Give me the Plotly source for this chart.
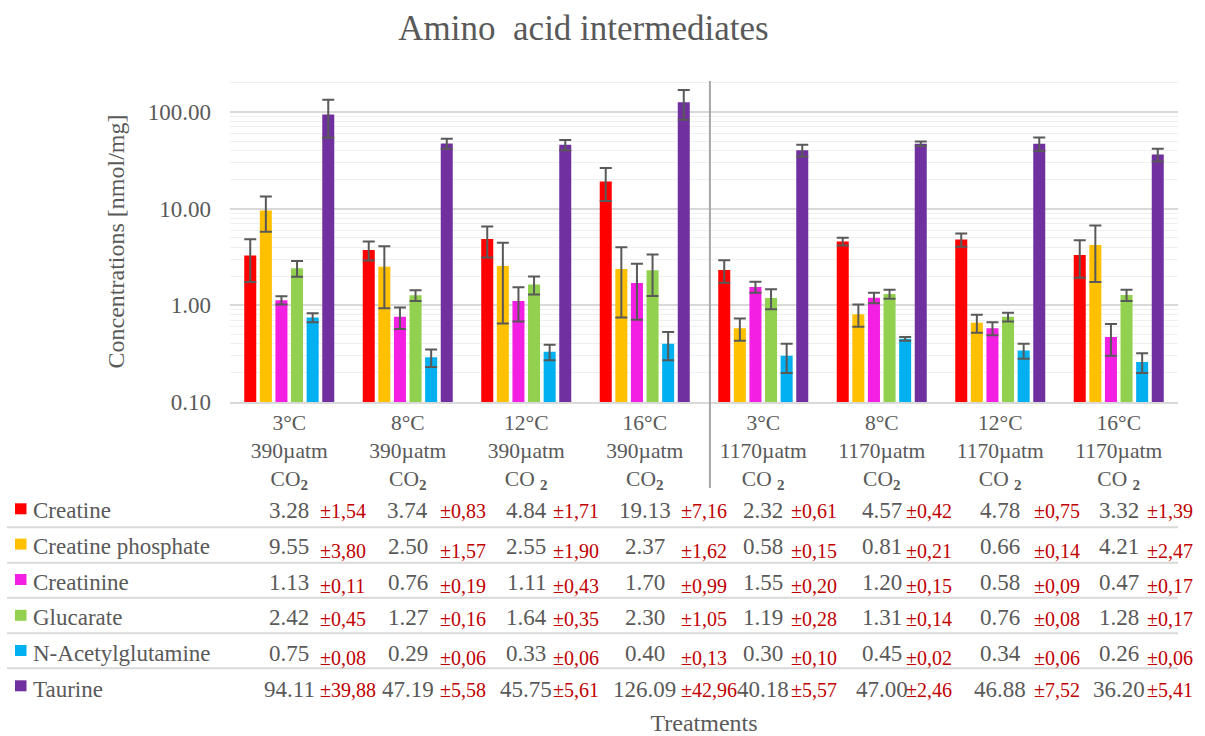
import plotly.graph_objects as go

# ---------------- data ----------------
categories = [
    "3°C<br>390µatm<br>CO<sub><b>2</b></sub>",
    "8°C<br>390µatm<br>CO<sub><b>2</b></sub>",
    "12°C<br>390µatm<br>CO <sub><b>2</b></sub>",
    "16°C<br>390µatm<br>CO<sub><b>2</b></sub>",
    "3°C<br>1170µatm<br>CO <sub><b>2</b></sub>",
    "8°C<br>1170µatm<br>CO<sub><b>2</b></sub>",
    "12°C<br>1170µatm<br>CO <sub><b>2</b></sub>",
    "16°C<br>1170µatm<br>CO <sub><b>2</b></sub>",
]
series_names = ["Creatine", "Creatine phosphate", "Creatinine", "Glucarate",
                "N-Acetylglutamine", "Taurine"]

creatine = [3.28, 3.74, 4.84, 19.13, 2.32, 4.57, 4.78, 3.32]
creatine_err = [1.54, 0.83, 1.71, 7.16, 0.61, 0.42, 0.75, 1.39]
creatine_phosphate = [9.55, 2.50, 2.55, 2.37, 0.58, 0.81, 0.66, 4.21]
creatine_phosphate_err = [3.80, 1.57, 1.90, 1.62, 0.15, 0.21, 0.14, 2.47]
creatinine = [1.13, 0.76, 1.11, 1.70, 1.55, 1.20, 0.58, 0.47]
creatinine_err = [0.11, 0.19, 0.43, 0.99, 0.20, 0.15, 0.09, 0.17]
glucarate = [2.42, 1.27, 1.64, 2.30, 1.19, 1.31, 0.76, 1.28]
glucarate_err = [0.45, 0.16, 0.35, 1.05, 0.28, 0.14, 0.08, 0.17]
n_acetylglutamine = [0.75, 0.29, 0.33, 0.40, 0.30, 0.45, 0.34, 0.26]
n_acetylglutamine_err = [0.08, 0.06, 0.06, 0.13, 0.10, 0.02, 0.06, 0.06]
taurine = [94.11, 47.19, 45.75, 126.09, 40.18, 47.00, 46.88, 36.20]
taurine_err = [39.88, 5.58, 5.61, 42.96, 5.57, 2.46, 7.52, 5.41]

y_tickvals = [0.1, 1, 10, 100]
y_ticktext = ["0.10", "1.00", "10.00", "100.00"]

values = [creatine, creatine_phosphate, creatinine, glucarate,
          n_acetylglutamine, taurine]
errors = [creatine_err, creatine_phosphate_err, creatinine_err, glucarate_err,
          n_acetylglutamine_err, taurine_err]

# ---------------- style ----------------
colors = ["#FF0000", "#FFC000", "#F31FE2", "#92D050", "#00B0F0", "#7030A0"]
FONT = "Liberation Serif, Times New Roman, serif"
GREY = "#595959"
RED = "#C00000"

W, H = 1205, 736
L, R, T, B = 230, 27, 81, 334
PW, PH = W - L - R, H - T - B


def px(x):
    return (x - L) / PW


def py(y):
    return (H - B - y) / PH


row_centers = [510.5, 546.5, 582.0, 617.5, 653.0, 689.0]
pm_drop = [0, 3, 3, 0, 4, 0]
pm_xshift = [31, 32, 27, 36, 28, 24, 34, 28]
separators = [527.3, 562.7, 597.7, 633.3, 668.3]
key_tops = [503.3, 538.6, 574.0, 609.8, 645.0, 680.3]

x_idx = list(range(len(categories)))

fig = go.Figure()
for name, vals, errs, col in zip(series_names, values, errors, colors):
    fig.add_trace(go.Bar(
        name=name, x=x_idx, y=vals, marker_color=col, marker_line_width=0,
        error_y=dict(type="data", array=errs, visible=True, color=GREY,
                     thickness=2, width=6),
        showlegend=False,
    ))

annotations = []
shapes = []

# data table rows
for r, (name, vals, errs, col) in enumerate(zip(series_names, values, errors, colors)):
    yc = row_centers[r]
    annotations.append(dict(
        xref="paper", yref="paper", x=px(31), y=py(yc), text=name,
        xanchor="left", yanchor="middle", showarrow=False,
        font=dict(family=FONT, size=23, color=GREY)))
    shapes.append(dict(
        type="rect", xref="paper", yref="paper",
        x0=px(15), x1=px(26.5), y0=py(key_tops[r]), y1=py(key_tops[r] + 11),
        fillcolor=col, line=dict(width=0)))
    for c, (v, e) in enumerate(zip(vals, errs)):
        annotations.append(dict(
            xref="x", yref="paper", x=c, y=py(yc), text=f"{v:.2f}",
            xanchor="center", yanchor="middle", showarrow=False,
            font=dict(family=FONT, size=23, color=GREY)))
        annotations.append(dict(
            xref="x", yref="paper", x=c, xshift=pm_xshift[c] - 2,
            y=py(yc + 1 + pm_drop[r]), text="±" + f"{e:.2f}".replace(".", ","),
            xanchor="left", yanchor="middle", showarrow=False,
            font=dict(family=FONT, size=20, color=RED)))

for ys in separators:
    shapes.append(dict(type="line", xref="paper", yref="paper",
                       x0=px(7), x1=px(1178), y0=py(ys), y1=py(ys),
                       line=dict(color="#D9D9D9", width=2)))

# vertical divider between CO2 treatments
shapes.append(dict(type="line", xref="x", yref="paper", x0=3.55, x1=3.55,
                   y0=1.0, y1=py(488), line=dict(color="#A6A6A6", width=2)))

fig.update_layout(
    width=W, height=H,
    margin=dict(l=L, r=R, t=T, b=B, autoexpand=False),
    paper_bgcolor="white", plot_bgcolor="white",
    barmode="group", bargap=0.21, bargroupgap=0.23,
    font=dict(family=FONT, color=GREY, size=22),
    title=dict(text="Amino  acid intermediates", x=583.5 / W, xanchor="center",
               y=1 - 28 / H, yanchor="middle",
               font=dict(family=FONT, size=35, color=GREY)),
    annotations=annotations,
    shapes=shapes,
)

fig.update_xaxes(
    tickmode="array", tickvals=x_idx, ticktext=categories,
    range=[-0.5, len(categories) - 0.5],
    showgrid=False, zeroline=False, showline=True, linecolor="#D9D9D9", linewidth=2,
    ticks="", tickfont=dict(family=FONT, size=21.5, color=GREY),
    title=dict(text="Treatments", standoff=224,
               font=dict(family=FONT, size=24, color=GREY)),
    automargin=False,
)
fig.update_yaxes(
    type="log", range=[-1, 2.32],
    tickmode="array", tickvals=y_tickvals, ticktext=y_ticktext,
    showgrid=True, gridcolor="#D9D9D9", gridwidth=1.6,
    minor=dict(dtick="D1", showgrid=True, gridcolor="#EFEFEF", gridwidth=1.3, ticks=""),
    showline=False, zeroline=False, ticks="",
    ticklabelstandoff=18,
    tickfont=dict(family=FONT, size=23, color=GREY),
    title=dict(text="Concentrations [nmol/mg]", standoff=16,
               font=dict(family=FONT, size=24, color=GREY)),
    automargin=False,
)

fig.write_html("out.html")
